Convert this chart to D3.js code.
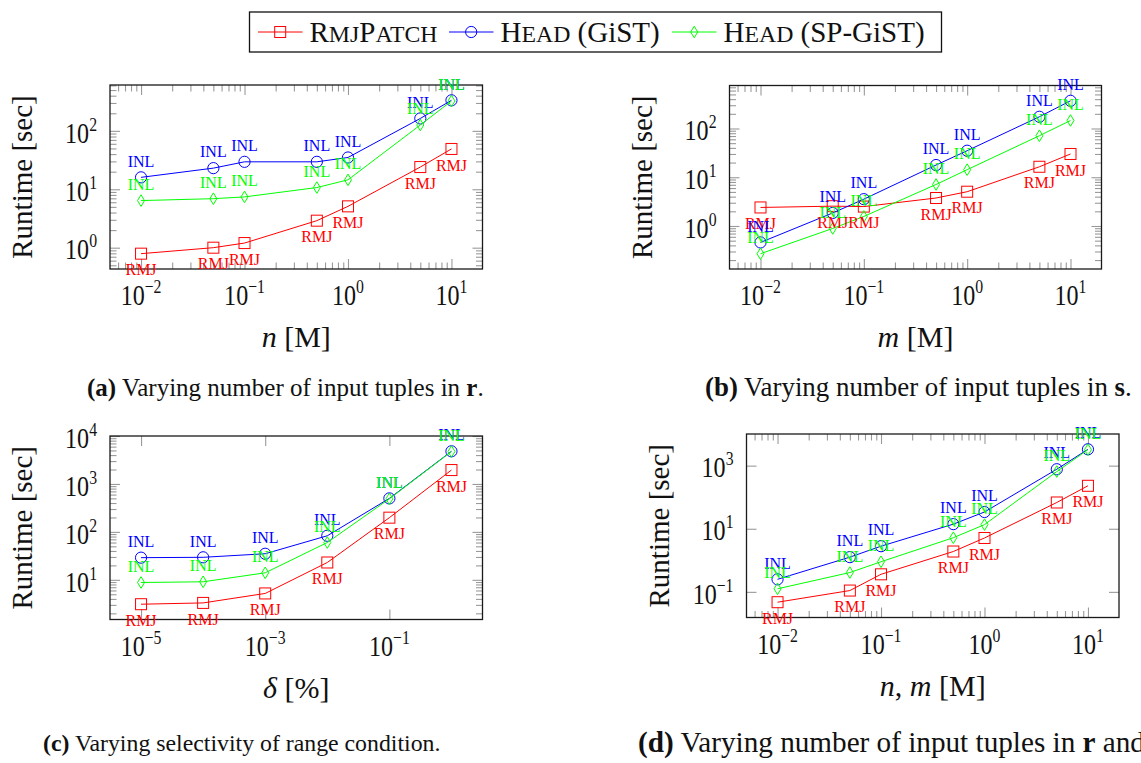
<!DOCTYPE html>
<html>
<head>
<meta charset="utf-8">
<script src="https://cdn.jsdelivr.net/npm/d3@7"></script>
<style>
  body { margin: 0; background: #fff; }
  svg { display: block; }
</style>
</head>
<body>
<div id="chart"></div>
<script>
// series
const seriesNames = [['RmjPatch', ''], ['Head', ' (GiST)'], ['Head', ' (SP-GiST)']];
const seriesTags = ['RMJ', 'INL', 'INL'];
const seriesColors = ['#ff0000', '#0000ff', '#00ff00'];
const seriesShapes = ['square', 'circle', 'diamond'];

// x values
const tupleCounts = [0.01, 0.05, 0.1, 0.5, 1, 5, 10];
const selectivities = [1e-5, 1e-4, 1e-3, 1e-2, 1e-1, 1];

// (a) varying n
const aRmj = [0.79, 1.0, 1.2, 2.9, 5.1, 24, 49];
const aGist = [16, 23, 29.5, 29.5, 35, 163, 333];
const aSpgist = [6.4, 6.9, 7.4, 10.7, 14.5, 126, 324];

// (b) varying m
const bRmj = [2.4, 2.55, 2.5, 3.75, 5.05, 16.4, 30];
const bGist = [0.46, 1.85, 3.55, 17.8, 35, 174, 370];
const bSpgist = [0.27, 0.89, 1.57, 7.1, 14.3, 71, 146];

// (c) varying selectivity
const cRmj = [3.1, 3.3, 5.2, 23, 198, 1950];
const cGist = [29, 29.5, 35, 83, 500, 4800];
const cSpgist = [8.8, 9.1, 14, 60, 490, 4750];

// (d) varying n and m
const dRmj = [0.047, 0.11, 0.36, 1.9, 5.1, 68, 230];
const dGist = [0.25, 1.26, 2.8, 14, 34, 770, 3300];
const dSpgist = [0.125, 0.41, 0.9, 5.2, 13.5, 650, 3200];

const FONT = '"Liberation Serif", "Times New Roman", "DejaVu Serif", serif';

const panels = [
  {
    xs: tupleCounts, ys: [aRmj, aGist, aSpgist],
    box: [110, 85, 482.5, 269],
    xMajor: [1e-2, 1e-1, 1, 10], xMinor: true,
    yMajor: [1, 10, 100], yMinor: true,
    xLabel: [['n', 'italic'], [' [M]', 'normal']],
    caption: [['(a)', 'bold'], [' Varying number of input tuples in ', 'normal'], ['r', 'bold'], ['.', 'normal']],
    capX: 87, capY: 396, capSize: 25
  },
  {
    xs: tupleCounts, ys: [bRmj, bGist, bSpgist],
    box: [729.5, 85.5, 1101.5, 269],
    xMajor: [1e-2, 1e-1, 1, 10], xMinor: true,
    yMajor: [1, 10, 100], yMinor: true,
    xLabel: [['m', 'italic'], [' [M]', 'normal']],
    caption: [['(b)', 'bold'], [' Varying number of input tuples in ', 'normal'], ['s', 'bold'], ['.', 'normal']],
    capX: 705, capY: 396, capSize: 26.9
  },
  {
    xs: selectivities, ys: [cRmj, cGist, cSpgist],
    box: [110, 436, 482.5, 619.5],
    xMajor: [1e-5, 1e-3, 1e-1], xMinor: false,
    yMajor: [10, 100, 1000, 10000], yMinor: true,
    xLabel: [['δ', 'italic'], [' [%]', 'normal']],
    caption: [['(c)', 'bold'], [' Varying selectivity of range condition.', 'normal']],
    capX: 43, capY: 751, capSize: 23.8
  },
  {
    xs: tupleCounts, ys: [dRmj, dGist, dSpgist],
    box: [746.5, 434, 1119, 617.5],
    xMajor: [1e-2, 1e-1, 1, 10], xMinor: true,
    yMajor: [0.1, 10, 1000], yMinor: false,
    xLabel: [['n', 'italic'], [', ', 'normal'], ['m', 'italic'], [' [M]', 'normal']],
    caption: [['(d)', 'bold'], [' Varying number of input tuples in ', 'normal'], ['r', 'bold'], [' and ', 'normal'], ['s', 'bold'], ['.', 'normal']],
    capX: 638, capY: 752, capSize: 29.2
  }
];

const W = 1141, H = 763;
const svg = d3.select('#chart').append('svg')
  .attr('width', W)
  .attr('height', H)
  .attr('viewBox', `0 0 ${W} ${H}`)
  .attr('font-family', FONT);

// pgfplots-like 10% enlargement of the log range
function logDomain(values) {
  const lo = Math.log10(d3.min(values));
  const hi = Math.log10(d3.max(values));
  const pad = (hi - lo) * 0.1;
  return [Math.pow(10, lo - pad), Math.pow(10, hi + pad)];
}

function drawMarker(g, shape, color, x, y) {
  if (shape === 'square') {
    g.append('rect').attr('x', x - 5.5).attr('y', y - 5.5).attr('width', 11).attr('height', 11)
      .attr('fill', 'none').attr('stroke', color).attr('stroke-width', 1);
  } else if (shape === 'circle') {
    g.append('circle').attr('cx', x).attr('cy', y).attr('r', 5.6)
      .attr('fill', 'none').attr('stroke', color).attr('stroke-width', 1);
  } else {
    g.append('path')
      .attr('d', `M${x},${y - 5.8}L${x + 3.5},${y}L${x},${y + 5.8}L${x - 3.5},${y}Z`)
      .attr('fill', 'none').attr('stroke', color).attr('stroke-width', 1);
  }
}

function powerLabel(g, x, y, anchor, value) {
  const exp = Math.round(Math.log10(value));
  const t = g.append('text')
    .attr('transform', `translate(${x},${y}) scale(0.83,1)`)
    .attr('text-anchor', anchor)
    .attr('font-family', FONT)
    .attr('font-size', 29)
    .attr('fill', '#111');
  t.append('tspan').text('10');
  t.append('tspan').attr('dy', -12).attr('font-size', 19)
    .text(exp < 0 ? '\u2212' + (-exp) : String(exp));
}

function richText(g, x, y, parts, size, anchor) {
  const t = g.append('text').attr('x', x).attr('y', y).attr('font-size', size)
    .attr('font-family', FONT)
    .attr('text-anchor', anchor).attr('fill', '#111');
  parts.forEach(([s, style]) => {
    const sp = t.append('tspan').text(s);
    if (style === 'bold') sp.attr('font-weight', 'bold');
    if (style === 'italic') sp.attr('font-style', 'italic');
  });
  return t;
}

// small caps done by hand: lowercase letters become smaller capitals
function smallCaps(t, str, size) {
  const runs = str.match(/[A-Z]+|[a-z]+/g) || [];
  runs.forEach(r => {
    const lower = r === r.toLowerCase();
    t.append('tspan')
      .attr('font-size', lower ? size * 0.82 : size)
      .text(r.toUpperCase());
  });
}

function minorTicks(scale) {
  return scale.ticks().filter(v => {
    const l = Math.log10(v);
    return Math.abs(l - Math.round(l)) > 1e-6;
  });
}

panels.forEach((p) => {
  const [x0, y0, x1, y1] = p.box;
  const g = svg.append('g');
  const allY = p.ys.flat();
  const x = d3.scaleLog().domain(logDomain(p.xs)).range([x0, x1]);
  const y = d3.scaleLog().domain(logDomain(allY)).range([y1, y0]);

  const tickColor = '#9a9a9a';
  const majorLen = 10, minorLen = 6.5;

  // ticks on all four sides, pointing inward
  const axes = [
    [d3.axisBottom(x), `translate(0,${y1})`, p.xMajor, p.xMinor ? minorTicks(x) : []],
    [d3.axisTop(x), `translate(0,${y0})`, p.xMajor, p.xMinor ? minorTicks(x) : []],
    [d3.axisLeft(y), `translate(${x0},0)`, p.yMajor, p.yMinor ? minorTicks(y) : []],
    [d3.axisRight(y), `translate(${x1},0)`, p.yMajor, p.yMinor ? minorTicks(y) : []]
  ];
  axes.forEach(([axis, tr, major, minor]) => {
    [[minor, minorLen], [major, majorLen]].forEach(([vals, len]) => {
      if (!vals.length) return;
      const a = g.append('g').attr('transform', tr)
        .call(axis.tickValues(vals).tickSize(-len).tickFormat(() => ''));
      a.select('.domain').remove();
      a.selectAll('line').attr('stroke', tickColor).attr('stroke-width', 1.1);
    });
  });

  // frame
  g.append('rect')
    .attr('x', x0).attr('y', y0).attr('width', x1 - x0).attr('height', y1 - y0)
    .attr('fill', 'none').attr('stroke', '#1a1a1a').attr('stroke-width', 1.3);

  // tick labels
  p.xMajor.forEach(v => powerLabel(g, x(v), y1 + 36, 'middle', v));
  p.yMajor.forEach(v => powerLabel(g, x0 - 13, y(v) + 11.7, 'end', v));

  // axis labels
  richText(g, (x0 + x1) / 2, y1 + 78, p.xLabel, 30, 'middle');
  g.append('text')
    .attr('transform', `translate(${x0 - 78},${(y0 + y1) / 2}) rotate(-90)`)
    .attr('text-anchor', 'middle')
    .attr('font-family', FONT)
    .attr('font-size', 29)
    .attr('fill', '#111')
    .text('Runtime [sec]');

  // series lines, markers, point labels
  const line = d3.line().x(d => x(d[0])).y(d => y(d[1]));
  p.ys.forEach((vals, si) => {
    const pts = p.xs.map((xv, i) => [xv, vals[i]]);
    g.append('path').attr('d', line(pts))
      .attr('fill', 'none').attr('stroke', seriesColors[si]).attr('stroke-width', 1);
    pts.forEach(d => drawMarker(g, seriesShapes[si], seriesColors[si], x(d[0]), y(d[1])));
  });
  p.ys.forEach((vals, si) => {
    p.xs.forEach((xv, i) => {
      const below = si === 0;
      g.append('text')
        .attr('x', x(xv))
        .attr('y', y(vals[i]) + (below ? 21.7 : -10.8))
        .attr('text-anchor', 'middle')
        .attr('font-family', FONT)
        .attr('font-size', 16)
        .attr('fill', seriesColors[si])
        .text(seriesTags[si]);
    });
  });

  // caption
  richText(svg, p.capX, p.capY, p.caption, p.capSize, 'start');
});

// legend
const legend = svg.append('g');
legend.append('rect')
  .attr('x', 249.5).attr('y', 12).attr('width', 692).attr('height', 40)
  .attr('fill', '#fff').attr('stroke', '#111').attr('stroke-width', 1.3);
const legendX = [258, 449, 672];
seriesNames.forEach(([caps, rest], i) => {
  const lx = legendX[i];
  legend.append('line')
    .attr('x1', lx).attr('x2', lx + 44.5).attr('y1', 32).attr('y2', 32)
    .attr('stroke', seriesColors[i]).attr('stroke-width', 1);
  drawMarker(legend, seriesShapes[i], seriesColors[i], lx + 22.2, 32);
  const t = legend.append('text')
    .attr('x', lx + 51.5).attr('y', 41.5)
    .attr('font-family', FONT)
    .attr('font-size', 29)
    .attr('fill', '#111');
  smallCaps(t, caps, 29);
  if (rest) t.append('tspan').attr('font-size', 29).text(rest);
});
</script>
</body>
</html>
